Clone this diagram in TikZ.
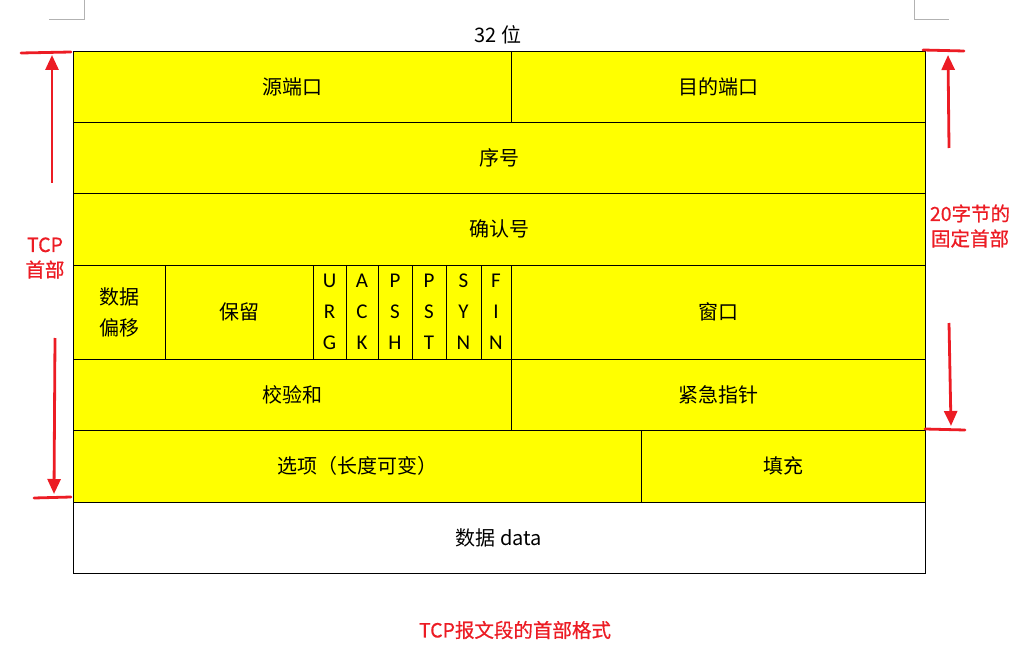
\documentclass[tikz,border=0pt]{standalone}
\usepackage{fontspec}
\setmainfont{Carlito}
\newfontfamily\cjk{Noto Sans CJK SC}
\newfontfamily\cjkb[FakeBold=0.6]{Noto Sans CJK SC}
\usetikzlibrary{arrows.meta}
\definecolor{hdr}{RGB}{255,255,0}
\definecolor{mark}{RGB}{236,28,36}
\newcommand\cellbox[7][cell]{\node[#1,minimum width={#5-#3},minimum height={#6-#4}] (#2) at ({(#3+#5)/2},{(#4+#6)/2}) {#7};}
\begin{document}
\begin{tikzpicture}[x=1pt,y=-1pt,
  cell/.style={draw=black,fill=hdr,line width=0.9pt,inner sep=0pt,outer sep=0pt,font=\fontsize{20}{31}\selectfont\cjk,align=center},
  flagcell/.style={cell,font=\fontsize{21}{31}\selectfont\rmfamily},
  redtxt/.style={text=mark,font=\fontsize{19.5}{25}\selectfont\cjkb,align=center},
  redbar/.style={draw=mark,line width=2.8pt,line cap=round},
  redarrow/.style={draw=mark,line width=2.8pt,-{Triangle[width=13pt,length=15pt]}},
  corner/.style={draw=black!30,line width=0.8pt}]
\useasboundingbox (0,0) rectangle (1030,652);
% page corner marks
\coordinate (tl1) at (84,0); \coordinate (tl2) at (84,19); \coordinate (tl3) at (49,19);
\draw[corner] (tl1) -- (tl2) -- (tl3);
\coordinate (tr1) at (914,0); \coordinate (tr2) at (914,19); \coordinate (tr3) at (949,19);
\draw[corner] (tr1) -- (tr2) -- (tr3);
% cells
\cellbox{src}{73}{51}{511}{122}{源端口}
\cellbox{dst}{511}{51}{925}{122}{目的端口}
\cellbox{seq}{73}{122}{925}{193}{序号}
\cellbox{ackn}{73}{193}{925}{265}{确认号}
\cellbox{off}{73}{265}{165}{359}{数据\\偏移}
\cellbox{res}{165}{265}{313}{359}{保留}
\cellbox[flagcell]{urg}{313}{265}{346}{359}{U\\R\\G}
\cellbox[flagcell]{ackf}{346}{265}{378}{359}{A\\C\\K}
\cellbox[flagcell]{psh}{378}{265}{412}{359}{P\\S\\H}
\cellbox[flagcell]{rst}{412}{265}{446}{359}{P\\S\\T}
\cellbox[flagcell]{syn}{446}{265}{481}{359}{S\\Y\\N}
\cellbox[flagcell]{fin}{481}{265}{511}{359}{F\\I\\N}
\cellbox{win}{511}{265}{925}{359}{窗口}
\cellbox{chk}{73}{359}{511}{430}{校验和}
\cellbox{urp}{511}{359}{925}{430}{紧急指针}
\cellbox{opt}{73}{430}{641}{502}{选项（长度可变）}
\cellbox{pad}{641}{430}{925}{502}{填充}
\node[cell,fill=white,minimum width=852,minimum height=71] (data) at (499,537.5) {数据 data};
% labels
\node[font=\fontsize{20}{22}\selectfont\cjk] (bits) at (498,35) {32 位};
\node[redtxt] (tcph) at (45,258) {TCP\\首部};
\node[redtxt] (fixed) at (970,226) {20字节的\\固定首部};
\node[redtxt] (cap) at (515,630) {TCP报文段的首部格式};
% red markers
\coordinate (la) at (21,53); \coordinate (lb) at (71,52);
\draw[redbar] (la) -- (lb);
\coordinate (lu0) at (52,183); \coordinate (lu1) at (52,55);
\draw[redarrow] (lu0) -- (lu1);
\coordinate (ld0) at (55,338); \coordinate (ld1) at (54,494);
\draw[redarrow] (ld0) -- (ld1);
\coordinate (lc) at (34,498); \coordinate (ldd) at (71,497);
\draw[redbar] (lc) -- (ldd);
\coordinate (ra) at (923,50); \coordinate (rb) at (964,51);
\draw[redbar] (ra) -- (rb);
\coordinate (ru0) at (949,148); \coordinate (ru1) at (948,55);
\draw[redarrow] (ru0) -- (ru1);
\coordinate (rd0) at (949,323); \coordinate (rd1) at (951,426);
\draw[redarrow] (rd0) -- (rd1);
\coordinate (rc) at (925,429); \coordinate (rdd) at (965,430);
\draw[redbar] (rc) -- (rdd);
\end{tikzpicture}
\end{document}
